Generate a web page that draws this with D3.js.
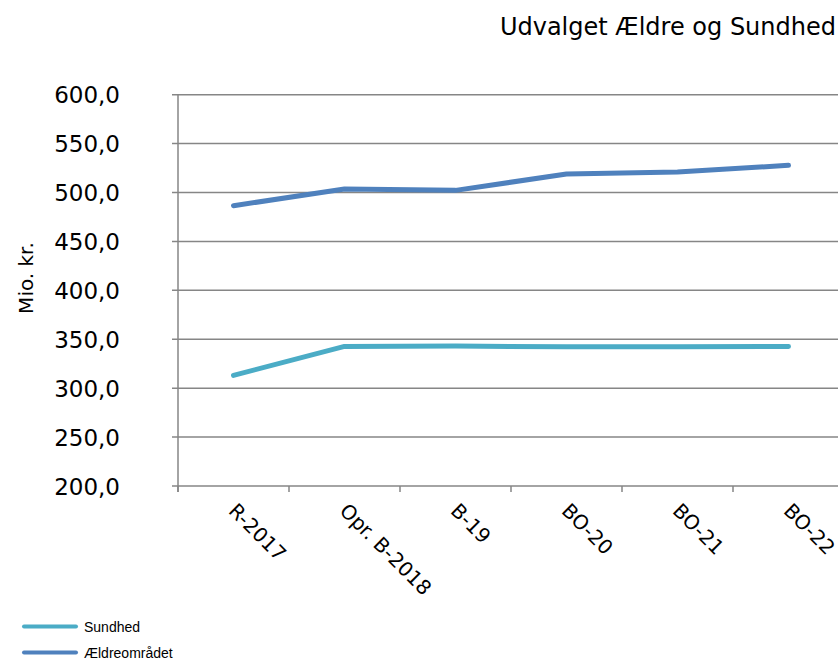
<!DOCTYPE html>
<html>
<head>
<meta charset="utf-8">
<script src="https://cdn.jsdelivr.net/npm/d3@7"></script>
<style>
	body { margin: 0; background: #fff; }
	svg { display: block; }
</style>
</head>
<body>
<div id="chart"></div>
<script>
// categories and series
var categories = ["R-2017", "Opr. B-2018", "B-19", "BO-20", "BO-21", "BO-22"];
var sundhed = [313.1, 342.7, 343.0, 342.4, 342.4, 342.7];
var aeldre = [486.5, 503.6, 502.2, 518.9, 521.0, 527.8];
var yTicks = [200, 250, 300, 350, 400, 450, 500, 550, 600];

var width = 838;
var height = 660;
var gridColor = "#868686";

var svg = d3.select("#chart").append("svg")
	.attr("width", width)
	.attr("height", height);

//scales
var x = d3.scaleBand()
	.domain(categories)
	.range([178, 178 + 111 * categories.length]);

var y = d3.scaleLinear()
	.domain([200, 600])
	.range([486, 94.7]);

//title
svg.append("text")
	.attr("x", 836)
	.attr("y", 34.5)
	.attr("text-anchor", "end")
	.style("font-family", "DejaVu Sans")
	.style("font-size", "24px")
	.text("Udvalget Ældre og Sundhed");

//horizontal gridlines
svg.append("g")
	.selectAll("line")
	.data(yTicks)
	.enter().append("line")
	.attr("x1", 172)
	.attr("x2", width)
	.attr("y1", function(d) { return y(d); })
	.attr("y2", function(d) { return y(d); })
	.style("stroke", gridColor)
	.style("stroke-width", 1.5);

//y axis line
svg.append("line")
	.attr("x1", 178).attr("x2", 178)
	.attr("y1", y(600)).attr("y2", y(200) + 6)
	.style("stroke", gridColor)
	.style("stroke-width", 1.5);

//x ticks
var xTickPos = categories.map(function(c) { return x(c); }).concat([x.range()[1]]);
svg.append("g")
	.selectAll("line")
	.data(xTickPos)
	.enter().append("line")
	.attr("x1", function(d) { return d; })
	.attr("x2", function(d) { return d; })
	.attr("y1", y(200))
	.attr("y2", y(200) + 6)
	.style("stroke", gridColor)
	.style("stroke-width", 1.5);

//y tick labels
svg.append("g")
	.selectAll("text")
	.data(yTicks)
	.enter().append("text")
	.attr("x", 120)
	.attr("y", function(d) { return y(d) + 8.5; })
	.attr("text-anchor", "end")
	.style("font-family", "DejaVu Sans")
	.style("font-size", "23px")
	.text(function(d) { return d3.format(".1f")(d).replace(".", ","); });

//y axis title
svg.append("text")
	.attr("transform", "translate(33,278) rotate(-90)")
	.attr("text-anchor", "middle")
	.style("font-family", "DejaVu Sans")
	.style("font-size", "20px")
	.text("Mio. kr.");

//x tick labels
svg.append("g")
	.selectAll("text")
	.data(categories)
	.enter().append("text")
	.attr("transform", function(d) {
		var cx = x(d) + x.bandwidth() / 2 - 6;
		return "translate(" + cx + "," + 512 + ") rotate(45)";
	})
	.attr("text-anchor", "start")
	.style("font-family", "DejaVu Sans")
	.style("font-size", "20px")
	.text(function(d) { return d; });

//lines
var line = d3.line()
	.x(function(d, i) { return x(categories[i]) + x.bandwidth() / 2; })
	.y(function(d) { return y(d); });

var series = [
	{ name: "Sundhed", values: sundhed, color: "#4BACC6" },
	{ name: "Ældreområdet", values: aeldre, color: "#4F81BD" }
];

series.forEach(function(s) {
	svg.append("path")
		.attr("d", line(s.values))
		.style("fill", "none")
		.style("stroke", s.color)
		.style("stroke-width", 5)
		.style("stroke-linecap", "round")
		.style("stroke-linejoin", "round");
});

//legend
series.forEach(function(s, i) {
	var ly = 626.5 + i * 26;
	svg.append("line")
		.attr("x1", 24).attr("x2", 76)
		.attr("y1", ly).attr("y2", ly)
		.style("stroke", s.color)
		.style("stroke-width", 4)
		.style("stroke-linecap", "round");
	svg.append("text")
		.attr("x", 84)
		.attr("y", ly + 5)
		.style("font-family", "Liberation Sans")
		.style("font-size", "14px")
		.text(s.name);
});
</script>
</body>
</html>
